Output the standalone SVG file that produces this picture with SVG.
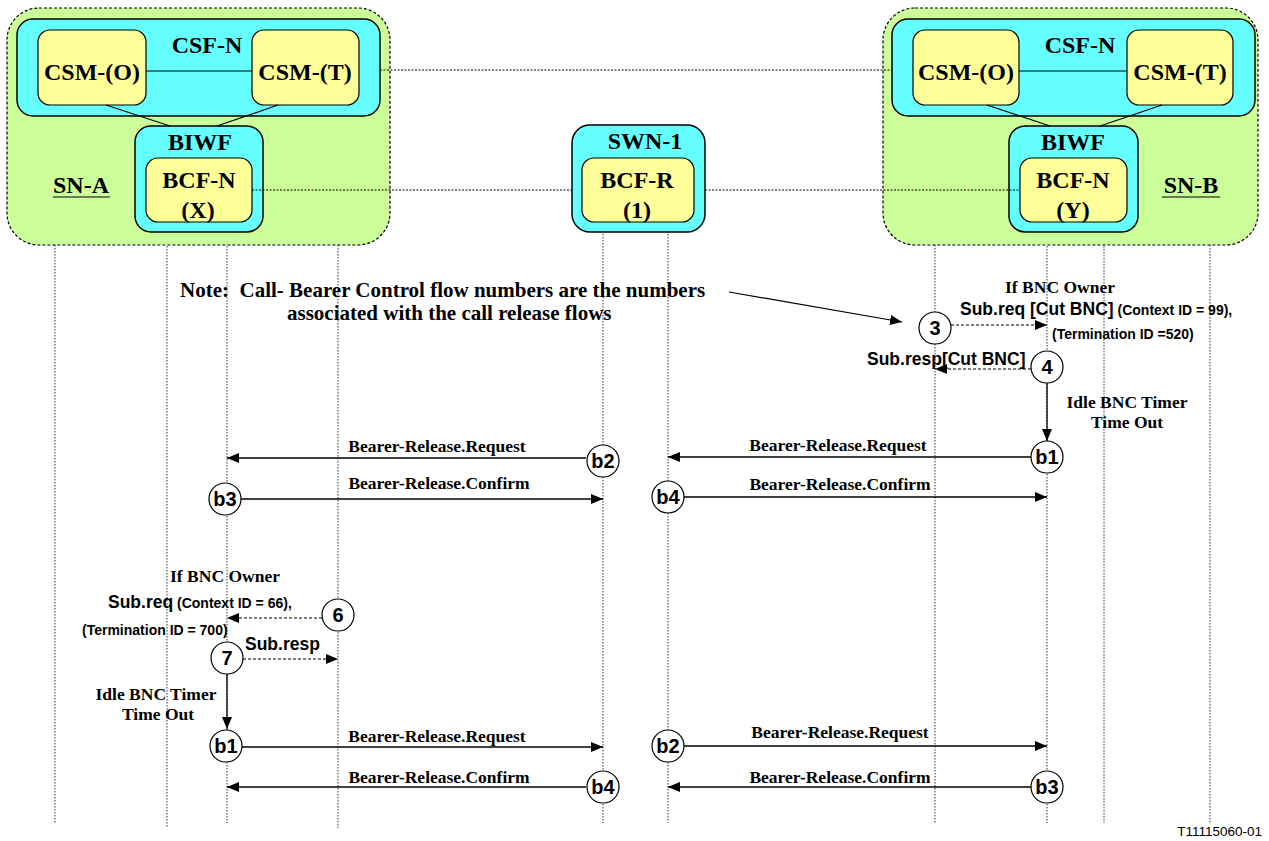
<svg xmlns="http://www.w3.org/2000/svg" width="1269" height="841" viewBox="0 0 1269 841">
<defs>
<marker id="ah" viewBox="0 0 12 10" refX="12" refY="5" markerWidth="12" markerHeight="10" markerUnits="userSpaceOnUse" orient="auto"><path d="M0,0 L12,5 L0,10 z" fill="#000"/></marker>
<style>
.sn{fill:#ccff99;stroke:#000;stroke-width:1.2;stroke-dasharray:3,2}
.cy{fill:#66ffff;stroke:#000;stroke-width:1.5}
.ye{fill:#ffff99;stroke:#000;stroke-width:1.2}
.big{font-family:"Liberation Serif",serif;font-weight:bold;font-size:24px;text-anchor:middle;fill:#000}
.t{font-family:"Liberation Serif",serif;font-weight:bold;font-size:17.5px;fill:#000}
.note{font-family:"Liberation Serif",serif;font-weight:bold;font-size:21px;fill:#000}
.a{font-family:"Liberation Sans",Arial,sans-serif;font-weight:bold;font-size:17.5px;fill:#000}
.as{font-family:"Liberation Sans",Arial,sans-serif;font-weight:bold;font-size:14px;fill:#000}
.cl{font-family:"Liberation Sans",Arial,sans-serif;font-weight:bold;font-size:20px;text-anchor:middle;fill:#000}
.life{stroke:#333;stroke-width:1;stroke-dasharray:1.5,1.5;fill:none}
.dot{stroke:#000;stroke-width:1;stroke-dasharray:2,1.5;fill:none}
.msg{stroke:#000;stroke-width:1.3;fill:none;marker-end:url(#ah)}
.dmsg{stroke:#000;stroke-width:1.2;stroke-dasharray:3,2;fill:none;marker-end:url(#ah)}
.ln{stroke:#000;stroke-width:1.2;fill:none}
.circ{fill:#fff;stroke:#000;stroke-width:1.2}
</style>
</defs>
<rect width="1269" height="841" fill="#fff"/>

<g id="lifelines">
<line class="life" x1="55" y1="116" x2="55" y2="823"/>
<line class="life" x1="167" y1="222" x2="167" y2="828"/>
<line class="life" x1="227" y1="222" x2="227" y2="823"/>
<line class="life" x1="338" y1="116" x2="338" y2="828"/>
<line class="life" x1="603" y1="222" x2="603" y2="823"/>
<line class="life" x1="668" y1="222" x2="668" y2="823"/>
<line class="life" x1="935" y1="116" x2="935" y2="823"/>
<line class="life" x1="1047" y1="222" x2="1047" y2="823"/>
<line class="life" x1="1104" y1="222" x2="1104" y2="823"/>
<line class="life" x1="1210" y1="116" x2="1210" y2="823"/>
</g>

<g id="SN-A">
<rect class="sn" x="7" y="8" width="383" height="237" rx="32"/>
<text class="big" x="81" y="193">SN-A</text>
<line class="ln" x1="53" y1="197" x2="110" y2="197"/>
</g>
<g id="CSF-N-A">
<rect class="cy" x="17" y="19" width="363" height="97" rx="16"/>
<text class="big" x="207" y="53">CSF-N</text>
</g>
<g id="CSM-O-A">
<rect class="ye" x="38" y="30" width="108" height="75" rx="12"/>
<text class="big" x="92" y="80">CSM-(O)</text>
</g>
<g id="CSM-T-A">
<rect class="ye" x="252" y="30" width="107" height="75" rx="12"/>
<text class="big" x="305" y="80">CSM-(T)</text>
</g>
<g id="BIWF-A">
<rect class="cy" x="135" y="126" width="128" height="106" rx="16"/>
<text class="big" x="200" y="150">BIWF</text>
</g>
<g id="BCF-N-X">
<rect class="ye" x="146" y="158" width="106" height="64" rx="12"/>
<text class="big" x="199" y="188">BCF-N</text>
<text class="big" x="198" y="218">(X)</text>
</g>

<g id="SWN-1">
<rect class="cy" x="572" y="125" width="133" height="107" rx="18"/>
<text class="big" x="645" y="149">SWN-1</text>
</g>
<g id="BCF-R">
<rect class="ye" x="582" y="158" width="112" height="64" rx="12"/>
<text class="big" x="637" y="188">BCF-R</text>
<text class="big" x="637" y="218">(1)</text>
</g>

<g id="SN-B">
<rect class="sn" x="883" y="8" width="375" height="237" rx="32"/>
<text class="big" x="1191" y="193">SN-B</text>
<line class="ln" x1="1162" y1="197" x2="1220" y2="197"/>
</g>
<g id="CSF-N-B">
<rect class="cy" x="892" y="19" width="363" height="97" rx="16"/>
<text class="big" x="1080" y="53">CSF-N</text>
</g>
<g id="CSM-O-B">
<rect class="ye" x="913" y="30" width="106" height="75" rx="12"/>
<text class="big" x="966" y="80">CSM-(O)</text>
</g>
<g id="CSM-T-B">
<rect class="ye" x="1127" y="30" width="106" height="75" rx="12"/>
<text class="big" x="1180" y="80">CSM-(T)</text>
</g>
<g id="BIWF-B">
<rect class="cy" x="1009" y="126" width="129" height="106" rx="16"/>
<text class="big" x="1073" y="150">BIWF</text>
</g>
<g id="BCF-N-Y">
<rect class="ye" x="1020" y="158" width="107" height="64" rx="12"/>
<text class="big" x="1073" y="188">BCF-N</text>
<text class="big" x="1073" y="218">(Y)</text>
</g>

<g id="connectors">
<line class="ln" x1="146" y1="71" x2="252" y2="71"/>
<line class="ln" x1="106" y1="105" x2="170" y2="126"/>
<line class="ln" x1="278" y1="105" x2="217" y2="126"/>
<line class="ln" x1="1019" y1="71" x2="1127" y2="71"/>
<line class="ln" x1="987" y1="105" x2="1050" y2="126"/>
<line class="ln" x1="1162" y1="105" x2="1100" y2="126"/>
<line class="dot" x1="380" y1="70" x2="892" y2="70"/>
<line class="dot" x1="252" y1="190" x2="572" y2="190"/>
<line class="dot" x1="705" y1="190" x2="1020" y2="190"/>

<line class="ln" x1="729" y1="292" x2="902" y2="322" marker-end="url(#ah)"/>

<line class="dmsg" x1="951" y1="325" x2="1047" y2="325"/>
<line class="dmsg" x1="1031" y1="369" x2="935" y2="369"/>
<line class="msg" x1="1047" y1="383" x2="1047" y2="441"/>
<line class="msg" x1="1031" y1="457" x2="668" y2="457"/>
<line class="msg" x1="586" y1="458" x2="227" y2="458"/>
<line class="msg" x1="241" y1="499" x2="603" y2="499"/>
<line class="msg" x1="684" y1="497" x2="1047" y2="497"/>

<line class="dmsg" x1="322" y1="618" x2="227" y2="618"/>
<line class="dmsg" x1="243" y1="659" x2="338" y2="659"/>
<line class="msg" x1="227" y1="674" x2="227" y2="729"/>
<line class="msg" x1="242" y1="747" x2="603" y2="747"/>
<line class="msg" x1="684" y1="746" x2="1047" y2="746"/>
<line class="msg" x1="586" y1="787" x2="227" y2="787"/>
<line class="msg" x1="1031" y1="787" x2="668" y2="787"/>
</g>

<g id="circles">
<g id="c3"><circle class="circ" cx="935" cy="328" r="16"/><text class="cl" x="935" y="335">3</text></g>
<g id="c4"><circle class="circ" cx="1047" cy="367" r="16"/><text class="cl" x="1047" y="374">4</text></g>
<g id="c-b1r"><circle class="circ" cx="1047" cy="457" r="16"/><text class="cl" x="1047" y="464">b1</text></g>
<g id="c-b2m"><circle class="circ" cx="603" cy="461" r="16"/><text class="cl" x="603" y="468">b2</text></g>
<g id="c-b3l"><circle class="circ" cx="225" cy="499" r="16"/><text class="cl" x="225" y="506">b3</text></g>
<g id="c-b4m"><circle class="circ" cx="668" cy="497" r="16"/><text class="cl" x="668" y="504">b4</text></g>
<g id="c6"><circle class="circ" cx="338" cy="615" r="16"/><text class="cl" x="338" y="622">6</text></g>
<g id="c7"><circle class="circ" cx="227" cy="658" r="16"/><text class="cl" x="227" y="665">7</text></g>
<g id="c-b1l"><circle class="circ" cx="226" cy="746" r="16"/><text class="cl" x="226" y="753">b1</text></g>
<g id="c-b2m2"><circle class="circ" cx="668" cy="746" r="16"/><text class="cl" x="668" y="753">b2</text></g>
<g id="c-b4m2"><circle class="circ" cx="603" cy="787" r="16"/><text class="cl" x="603" y="794">b4</text></g>
<g id="c-b3r"><circle class="circ" cx="1047" cy="787" r="16"/><text class="cl" x="1047" y="794">b3</text></g>
</g>

<g id="labels">
<text class="note" x="180" y="297" xml:space="preserve">Note:  Call- Bearer Control flow numbers are the numbers</text>
<text class="note" x="287" y="320">associated with the call release flows</text>

<text class="t" x="1060" y="293" text-anchor="middle">If BNC Owner</text>
<text x="960" y="315"><tspan class="a">Sub.req [Cut BNC]</tspan><tspan class="as"> (Context ID = 99),</tspan></text>
<text class="as" x="1052" y="339">(Termination ID =520)</text>
<text class="a" x="867" y="365">Sub.resp[Cut BNC]</text>
<text class="t" x="1127" y="408" text-anchor="middle">Idle BNC Timer</text>
<text class="t" x="1127" y="428" text-anchor="middle">Time Out</text>

<text class="t" x="838" y="451" text-anchor="middle">Bearer-Release.Request</text>
<text class="t" x="437" y="452" text-anchor="middle">Bearer-Release.Request</text>
<text class="t" x="439" y="489" text-anchor="middle">Bearer-Release.Confirm</text>
<text class="t" x="840" y="490" text-anchor="middle">Bearer-Release.Confirm</text>

<text class="t" x="225" y="582" text-anchor="middle">If BNC Owner</text>
<text x="108" y="608"><tspan class="a">Sub.req</tspan><tspan class="as"> (Context ID = 66),</tspan></text>
<text class="as" x="82" y="635">(Termination ID = 700)</text>
<text class="a" x="245" y="650">Sub.resp</text>
<text class="t" x="156" y="700" text-anchor="middle">Idle BNC Timer</text>
<text class="t" x="158" y="720" text-anchor="middle">Time Out</text>

<text class="t" x="437" y="742" text-anchor="middle">Bearer-Release.Request</text>
<text class="t" x="840" y="738" text-anchor="middle">Bearer-Release.Request</text>
<text class="t" x="439" y="783" text-anchor="middle">Bearer-Release.Confirm</text>
<text class="t" x="840" y="783" text-anchor="middle">Bearer-Release.Confirm</text>

<text x="1262" y="836" text-anchor="end" font-family="Liberation Sans, Arial, sans-serif" font-size="13.5" fill="#000">T11115060-01</text>
</g>
</svg>
